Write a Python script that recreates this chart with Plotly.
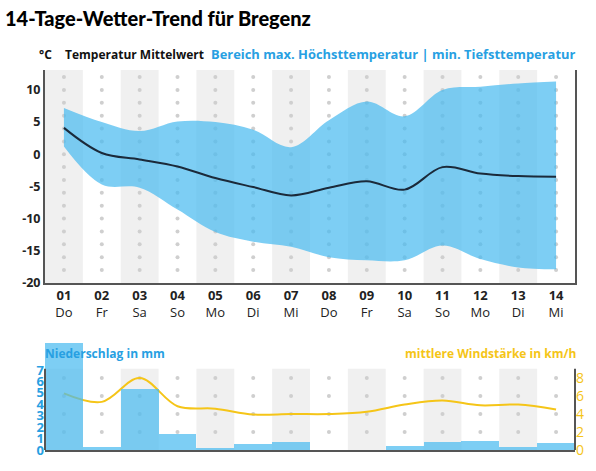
import plotly.graph_objects as go

days = list(range(1, 15))
day_nums = ["01", "02", "03", "04", "05", "06", "07", "08", "09", "10", "11", "12", "13", "14"]
weekdays = ["Do", "Fr", "Sa", "So", "Mo", "Di", "Mi", "Do", "Fr", "Sa", "So", "Mo", "Di", "Mi"]

temp_max = [7.2, 5.0, 3.6, 5.1, 5.0, 3.8, 1.1, 5.3, 8.2, 5.9, 10.0, 10.5, 11.0, 11.3]
temp_min = [1.2, -4.7, -5.2, -8.6, -12.1, -13.6, -14.4, -16.0, -16.5, -16.5, -14.2, -16.3, -17.6, -17.9]
temp_mean = [4.1, 0.2, -0.8, -1.9, -3.7, -5.1, -6.4, -5.2, -4.2, -5.5, -2.0, -3.0, -3.4, -3.5]

precip = [9.4, 0.3, 5.4, 1.45, 0.2, 0.6, 0.73, 0.0, 0.0, 0.4, 0.7, 0.8, 0.3, 0.67]
wind = [6.3, 5.35, 8.0, 4.87, 4.6, 3.94, 4.0, 4.0, 4.24, 5.05, 5.5, 4.97, 5.05, 4.5]

temp_ticks = [-20, -15, -10, -5, 0, 5, 10]
temp_dots = list(range(-18, 13, 2))
precip_ticks = [0, 1, 2, 3, 4, 5, 6, 7]
wind_ticks = [0, 2, 4, 6, 8]
wind_dots = [2, 4, 6, 8]
wind_panel_top = 9.03  # top of the shaded lower panel, in wind units

BLUE_FILL = "rgba(70,185,240,0.7)"
BLUE_TXT = "#27a0e2"
YELLOW = "#f5c518"
DARK = "#1b2a3a"
AXIS = "#555555"
GRAY_BAND = "#f0f0f0"
DOT = "#cfcfcf"
FONT = "Open Sans"

fig = go.Figure()

# dots top chart
dx, dy = [], []
for d in days:
    for v in temp_dots:
        dx.append(d)
        dy.append(v)
fig.add_trace(go.Scatter(x=dx, y=dy, mode="markers", marker=dict(size=4, color=DOT),
                         xaxis="x", yaxis="y", hoverinfo="skip", showlegend=False))

# temperature band
fig.add_trace(go.Scatter(x=days, y=temp_min, mode="lines", line=dict(width=0, shape="spline", smoothing=1),
                         xaxis="x", yaxis="y", showlegend=False, hoverinfo="skip"))
fig.add_trace(go.Scatter(x=days, y=temp_max, mode="lines", line=dict(width=0, shape="spline", smoothing=1),
                         fill="tonexty", fillcolor=BLUE_FILL,
                         xaxis="x", yaxis="y", showlegend=False, hoverinfo="skip"))
fig.add_trace(go.Scatter(x=days, y=temp_mean, mode="lines", line=dict(width=2, color=DARK, shape="spline", smoothing=1),
                         xaxis="x", yaxis="y", showlegend=False))

# bottom dots (on wind axis)
bx, by = [], []
for d in days:
    for v in wind_dots:
        bx.append(d)
        by.append(v)
fig.add_trace(go.Scatter(x=bx, y=by, mode="markers", marker=dict(size=4, color=DOT),
                         xaxis="x2", yaxis="y2", hoverinfo="skip", showlegend=False))
# wind line
fig.add_trace(go.Scatter(x=days, y=wind, mode="lines", line=dict(width=2, color=YELLOW, shape="spline", smoothing=1),
                         xaxis="x2", yaxis="y2", showlegend=False))
# precipitation bars (overlay, drawn on top)
fig.add_trace(go.Bar(x=days, y=precip, marker=dict(color=BLUE_FILL, line=dict(width=0)),
                     xaxis="x2", yaxis="y3", showlegend=False))

shapes = []
for d in days:
    if d % 2 == 1:
        shapes.append(dict(type="rect", xref="x", yref="y domain", x0=d - 0.5, x1=d + 0.5, y0=0, y1=1,
                           fillcolor=GRAY_BAND, line=dict(width=0), layer="below"))
        shapes.append(dict(type="rect", xref="x2", yref="y2", x0=d - 0.5, x1=d + 0.5, y0=0, y1=wind_panel_top,
                           fillcolor=GRAY_BAND, line=dict(width=0), layer="below"))
# side axis lines of the lower panel
for xd in (0, 1):
    shapes.append(dict(type="line", xref="x2 domain", yref="y2", x0=xd, x1=xd, y0=0, y1=wind_panel_top,
                       line=dict(color=AXIS, width=2), layer="above"))

top_dom = [(452 - 284) / 382, 1.0]
bot_dom = [0, (452 - 340) / 382]

fig.update_layout(
    width=596, height=471,
    margin=dict(l=45, r=21, t=70, b=19),
    paper_bgcolor="white", plot_bgcolor="rgba(0,0,0,0)",
    font=dict(family=FONT, color="#222"),
    bargap=0,
    shapes=shapes,
    xaxis=dict(domain=[0, 1], range=[0.5, 14.5], anchor="y",
               tickvals=days, ticktext=[f"<b>{n}</b><br>{w}" for n, w in zip(day_nums, weekdays)],
               tickfont=dict(size=13, color="#222", family=FONT),
               showline=True, linecolor=AXIS, linewidth=2, showgrid=False, zeroline=False, ticks=""),
    yaxis=dict(domain=top_dom, range=[-20, 13.1], anchor="x",
               tickvals=temp_ticks, ticktext=[f"<b>{t}</b>" for t in temp_ticks],
               tickfont=dict(size=12.5, color="#222", family=FONT),
               showline=True, mirror=True, linecolor=AXIS, linewidth=2, showgrid=False, zeroline=False, ticks=""),
    xaxis2=dict(domain=[0, 1], range=[0.5, 14.5], anchor="y2", showticklabels=False,
                showline=True, linecolor=AXIS, linewidth=2, showgrid=False, zeroline=False, ticks=""),
    yaxis2=dict(domain=bot_dom, range=[0, (452 - 340) / 9.04], anchor="x2", side="right",
                tickvals=wind_ticks, ticktext=[str(t) for t in wind_ticks],
                tickfont=dict(size=14, color=YELLOW, family=FONT),
                showline=False, showgrid=False, zeroline=False, ticks=""),
    yaxis3=dict(range=[0, (452 - 340) / 11.49], overlaying="y2", anchor="x2", side="left",
                tickvals=precip_ticks, ticktext=[f"<b>{t}</b>" for t in precip_ticks],
                tickfont=dict(size=13, color=BLUE_TXT, family=FONT),
                showline=False, showgrid=False, zeroline=False, ticks=""),
)

def py(ypx):
    return (452 - ypx) / 382

def px(xpx):
    return (xpx - 45) / 530

ann = [
    dict(text="14-Tage-Wetter-Trend für Bregenz", x=px(3), y=py(18), xanchor="left", yanchor="middle",
         font=dict(family="Lato", size=20, color="#000", weight=900)),
    dict(text="<b>°C</b>", x=px(37), y=py(54), xanchor="left", yanchor="middle",
         font=dict(family=FONT, size=12, color="#111")),
    dict(text="<b>Temperatur Mittelwert</b>", x=px(63), y=py(54), xanchor="left", yanchor="middle",
         font=dict(family=FONT, size=12, color="#111")),
    dict(text="<b>Bereich max. Höchsttemperatur | min. Tiefsttemperatur</b>", x=px(577), y=py(54),
         xanchor="right", yanchor="middle", font=dict(family=FONT, size=12.9, color=BLUE_TXT)),
    dict(text="<b>Niederschlag in mm</b>", x=px(43), y=py(355), xanchor="left", yanchor="middle",
         font=dict(family=FONT, size=12, color=BLUE_TXT)),
    dict(text="<b>mittlere Windstärke in km/h</b>", x=px(578), y=py(355), xanchor="right", yanchor="middle",
         font=dict(family=FONT, size=12, color=YELLOW)),
]
for a in ann:
    a.update(xref="paper", yref="paper", showarrow=False)
fig.update_layout(annotations=ann)

fig.write_html("out.html")
